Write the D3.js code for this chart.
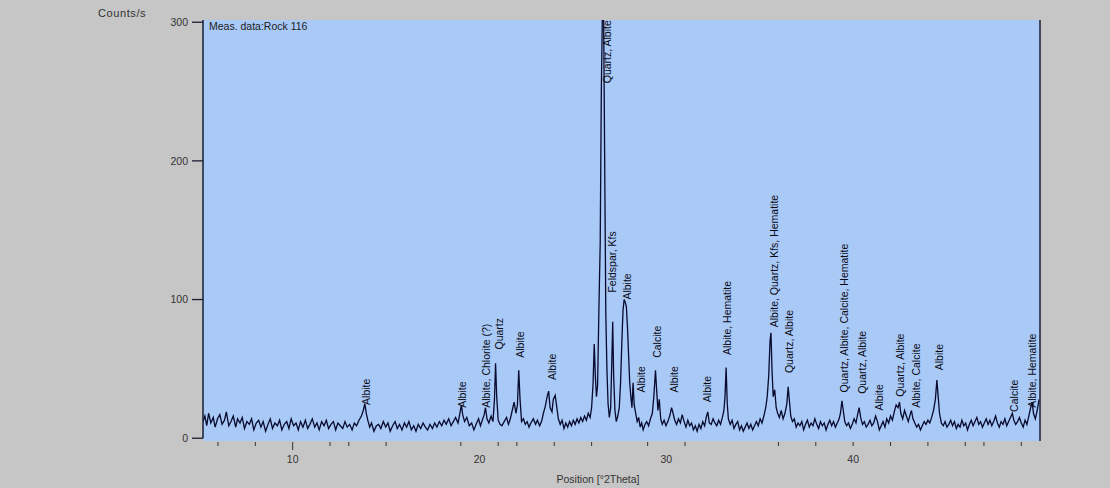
<!DOCTYPE html>
<html>
<head>
<meta charset="utf-8">
<script src="https://cdn.jsdelivr.net/npm/d3@7"></script>
<style>
  body { margin: 0; background: #c6c6c6; }
  svg { display: block; font-family: "Liberation Sans", Arial, sans-serif; }
</style>
</head>
<body>
<div id="chart"></div>
<script>
// measured profile: [position in deg 2Theta, counts/s]
var profile = [
  [5.20,12],[5.30,16],[5.40,9],[5.50,18],[5.62,11],[5.75,15],[5.85,8],[5.98,14],[6.10,17],[6.22,10],
  [6.35,13],[6.45,19],[6.58,9],[6.70,12],[6.82,16],[6.95,8],[7.05,14],[7.18,11],[7.30,15],[7.42,7],
  [7.55,12],[7.68,10],[7.80,14],[7.92,6],[8.05,11],[8.18,13],[8.30,8],[8.42,12],[8.55,5],[8.68,10],
  [8.80,14],[8.92,7],[9.05,11],[9.18,9],[9.30,13],[9.42,6],[9.55,10],[9.68,12],[9.80,7],[9.92,14],
  [10.05,9],[10.18,11],[10.30,6],[10.42,12],[10.55,8],[10.68,13],[10.80,7],[10.92,10],[11.05,14],[11.18,8],
  [11.30,11],[11.42,6],[11.55,12],[11.68,9],[11.80,13],[11.92,7],[12.05,10],[12.18,12],[12.30,6],[12.42,11],
  [12.55,9],[12.68,7],[12.80,12],[12.92,8],[13.05,10],[13.18,6],[13.30,11],[13.42,9],[13.55,13],[13.68,16],
  [13.78,20],[13.86,25],[13.94,18],[14.02,13],[14.12,8],[14.22,11],[14.35,5],[14.48,9],[14.60,10],[14.72,7],
  [14.85,12],[14.98,8],[15.10,11],[15.22,5],[15.35,9],[15.48,12],[15.60,7],[15.72,10],[15.85,6],[15.98,11],
  [16.10,8],[16.22,12],[16.35,6],[16.48,9],[16.60,5],[16.72,10],[16.85,7],[16.98,11],[17.10,8],[17.22,6],
  [17.35,10],[17.48,7],[17.60,11],[17.72,8],[17.85,12],[17.98,9],[18.10,13],[18.22,10],[18.35,14],[18.48,9],
  [18.60,12],[18.72,15],[18.85,11],[18.95,18],[19.03,24],[19.10,17],[19.20,12],[19.32,15],[19.45,9],[19.58,11],
  [19.70,6],[19.82,10],[19.95,14],[20.05,9],[20.15,13],[20.25,17],[20.32,22],[20.40,14],[20.50,11],[20.62,16],
  [20.72,12],[20.80,28],[20.86,54],[20.92,30],[21.00,13],[21.10,10],[21.20,9],[21.32,12],[21.45,15],[21.55,10],
  [21.65,14],[21.75,20],[21.85,26],[21.95,18],[22.03,24],[22.10,49],[22.17,28],[22.25,12],[22.35,14],[22.45,10],
  [22.55,12],[22.65,8],[22.75,11],[22.88,14],[23.00,10],[23.10,13],[23.22,9],[23.32,12],[23.42,18],[23.52,23],
  [23.62,30],[23.70,34],[23.78,22],[23.88,19],[23.95,28],[24.05,31],[24.12,24],[24.22,14],[24.32,10],[24.42,13],
  [24.52,7],[24.62,11],[24.72,8],[24.82,12],[24.92,9],[25.02,13],[25.12,10],[25.22,14],[25.32,11],[25.42,15],
  [25.52,12],[25.62,16],[25.72,13],[25.82,18],[25.92,15],[26.00,22],[26.08,40],[26.14,68],[26.20,45],[26.26,30],
  [26.32,38],[26.40,100],[26.46,140],[26.52,250],[26.58,310],[26.64,312],[26.70,200],[26.76,90],[26.82,50],[26.88,25],
  [26.95,15],[27.02,22],[27.08,55],[27.13,84],[27.18,45],[27.25,20],[27.32,12],[27.40,16],[27.48,22],[27.55,40],
  [27.62,70],[27.68,92],[27.74,100],[27.80,98],[27.86,95],[27.92,80],[27.98,60],[28.04,40],[28.10,30],[28.16,22],
  [28.22,40],[28.28,24],[28.36,18],[28.44,12],[28.52,15],[28.60,8],[28.68,11],[28.76,6],[28.86,10],[28.95,12],
  [29.05,9],[29.15,14],[29.25,18],[29.33,30],[29.42,49],[29.48,35],[29.55,20],[29.62,28],[29.70,14],[29.78,10],
  [29.88,13],[29.98,9],[30.08,12],[30.18,16],[30.28,22],[30.36,18],[30.45,13],[30.55,10],[30.65,14],[30.75,11],
  [30.85,17],[30.95,12],[31.05,8],[31.15,13],[31.25,9],[31.35,11],[31.45,6],[31.55,9],[31.65,5],[31.75,10],
  [31.85,7],[31.95,12],[32.05,9],[32.15,16],[32.22,19],[32.30,11],[32.40,10],[32.50,14],[32.60,11],[32.70,9],
  [32.80,13],[32.90,10],[33.00,15],[33.08,20],[33.14,30],[33.20,51],[33.26,25],[33.32,14],[33.42,10],[33.52,13],
  [33.62,7],[33.72,10],[33.82,12],[33.92,6],[34.02,9],[34.12,5],[34.22,8],[34.32,11],[34.42,7],[34.52,10],
  [34.62,6],[34.72,9],[34.82,12],[34.92,9],[35.02,14],[35.12,11],[35.22,16],[35.32,22],[35.40,30],[35.48,45],
  [35.55,70],[35.60,76],[35.66,48],[35.72,30],[35.80,35],[35.88,22],[35.96,18],[36.05,15],[36.15,20],[36.25,14],
  [36.35,18],[36.45,25],[36.52,37],[36.58,28],[36.66,16],[36.75,12],[36.85,14],[36.95,8],[37.05,11],[37.15,9],
  [37.25,12],[37.35,6],[37.45,10],[37.55,13],[37.65,8],[37.75,11],[37.85,9],[37.95,14],[38.05,10],[38.15,7],
  [38.25,12],[38.35,9],[38.45,11],[38.55,6],[38.65,10],[38.75,13],[38.85,9],[38.95,12],[39.05,8],[39.15,11],
  [39.25,14],[39.32,18],[39.40,27],[39.47,20],[39.55,12],[39.65,9],[39.75,11],[39.85,7],[39.95,10],[40.05,14],
  [40.15,11],[40.25,18],[40.32,22],[40.40,15],[40.50,10],[40.60,12],[40.70,8],[40.80,10],[40.90,13],[41.00,9],
  [41.10,11],[41.20,16],[41.30,12],[41.40,6],[41.50,9],[41.60,12],[41.70,8],[41.80,14],[41.90,11],[42.00,16],
  [42.10,13],[42.20,19],[42.30,24],[42.40,22],[42.48,26],[42.55,18],[42.65,14],[42.75,20],[42.85,16],[42.95,12],
  [43.05,17],[43.12,20],[43.20,14],[43.30,11],[43.40,8],[43.50,10],[43.60,6],[43.70,9],[43.80,12],[43.90,10],
  [44.00,13],[44.10,11],[44.20,15],[44.30,20],[44.40,28],[44.48,42],[44.55,30],[44.62,18],[44.72,11],[44.82,9],
  [44.92,12],[45.02,8],[45.12,10],[45.22,13],[45.32,9],[45.42,12],[45.52,7],[45.62,10],[45.72,8],[45.82,13],
  [45.92,9],[46.02,11],[46.12,6],[46.22,10],[46.32,13],[46.42,9],[46.52,12],[46.62,15],[46.72,10],[46.82,12],
  [46.92,8],[47.02,11],[47.12,14],[47.22,10],[47.32,13],[47.42,9],[47.52,12],[47.62,16],[47.72,11],[47.82,8],
  [47.92,12],[48.02,10],[48.12,14],[48.22,9],[48.32,12],[48.42,15],[48.52,18],[48.60,13],[48.70,10],[48.80,12],
  [48.90,15],[49.00,11],[49.10,8],[49.20,13],[49.30,10],[49.40,16],[49.50,22],[49.58,26],[49.65,18],[49.75,14],
  [49.85,20],[49.95,28]
];

// phase identification labels
var peakNames = [
  "Albite", "Albite", "Albite, Chlorite (?)", "Quartz", "Albite", "Albite",
  "Quartz, Albite", "Feldspar, Kfs", "Albite", "Albite", "Calcite", "Albite",
  "Albite", "Albite, Hematite", "Albite, Quartz, Kfs, Hematite", "Quartz, Albite",
  "Quartz, Albite, Calcite, Hematite", "Quartz, Albite", "Albite", "Quartz, Albite",
  "Albite, Calcite", "Albite", "Calcite", "Albite, Hematite"
];
var peakPos = [
  13.96, 19.09, 20.37, 21.05, 22.2, 23.9,
  26.85, 27.1, 27.9, 28.66, 29.5, 30.4,
  32.19, 33.26, 35.78, 36.58,
  39.52, 40.48, 41.39, 42.51,
  43.37, 44.6, 48.61, 49.57
];
var labelBase = [
  24, 22, 22, 64, 58, 42,
  256, 105, 100, 33, 58, 33,
  26, 60, 80, 47,
  33, 32, 20, 30,
  22, 49, 19, 22
];

var yTicks = [0, 100, 200, 300];
var xTickLabels = [10, 20, 30, 40];
var xMarks = [6, 8, 10, 12, 13, 15, 19, 21, 22, 24, 26, 29, 31, 36, 38, 40, 42, 44, 46, 47, 49];

var W = 1110, H = 488;
var plot = {left: 203, right: 1040, top: 20, bottom: 441};
var fs = "10.5px";

var svg = d3.select("#chart").append("svg")
    .attr("width", W)
    .attr("height", H);

var x = d3.scaleLinear().domain([5.2, 50]).range([plot.left, plot.right]);
var y = d3.scaleLinear().domain([-2, 301.6]).range([plot.bottom, plot.top]);

// plot background
svg.append("rect")
    .attr("x", plot.left).attr("y", plot.top)
    .attr("width", plot.right - plot.left)
    .attr("height", plot.bottom - plot.top)
    .attr("fill", "#a9c9f7");

svg.append("clipPath").attr("id", "clip")
  .append("rect")
    .attr("x", plot.left).attr("y", plot.top)
    .attr("width", plot.right - plot.left)
    .attr("height", plot.bottom - plot.top);

// pattern
var line = d3.line().x(d => x(d[0])).y(d => y(d[1]));
svg.append("path")
    .attr("clip-path", "url(#clip)")
    .attr("d", line(profile))
    .attr("fill", "none")
    .attr("stroke", "#080a2e")
    .attr("stroke-width", 1.3);

// peak labels
svg.append("g").selectAll("text")
    .data(peakNames)
    .enter().append("text")
    .attr("transform", (d, i) => "translate(" + x(peakPos[i]) + "," + y(labelBase[i]) + ") rotate(-90)")
    .attr("dy", "0.35em")
    .attr("font-size", fs)
    .attr("fill", "#0a0a14")
    .text(d => d);

// frame
svg.append("line")
    .attr("x1", plot.left).attr("x2", plot.left)
    .attr("y1", plot.top).attr("y2", y(0))
    .attr("stroke", "#1a1d33").attr("stroke-width", 1.5);
svg.append("line")
    .attr("x1", plot.right).attr("x2", plot.right)
    .attr("y1", plot.top).attr("y2", plot.bottom)
    .attr("stroke", "#1a1d33").attr("stroke-width", 1.5);

// y axis
var yAxis = svg.append("g");
yAxis.selectAll("line").data(yTicks).enter().append("line")
    .attr("x1", plot.left - 11).attr("x2", plot.left)
    .attr("y1", d => y(d)).attr("y2", d => y(d))
    .attr("stroke", "#1a1d33").attr("stroke-width", 1.3);
yAxis.selectAll("text").data(yTicks).enter().append("text")
    .attr("x", plot.left - 15)
    .attr("y", d => y(d))
    .attr("dy", "0.35em")
    .attr("text-anchor", "end")
    .attr("font-size", fs)
    .attr("fill", "#333")
    .text(d => d);

// x axis marks and labels
var xAxis = svg.append("g");
xAxis.selectAll("line").data(xMarks).enter().append("line")
    .attr("x1", d => x(d)).attr("x2", d => x(d))
    .attr("y1", plot.bottom + 1)
    .attr("y2", d => plot.bottom + (d === 10 ? 9 : 5))
    .attr("stroke", "#333").attr("stroke-width", 1);
xAxis.selectAll("text").data(xTickLabels).enter().append("text")
    .attr("x", d => x(d))
    .attr("y", 463)
    .attr("text-anchor", "middle")
    .attr("font-size", fs)
    .attr("fill", "#333")
    .text(d => d);

svg.append("text")
    .attr("x", 598).attr("y", 483)
    .attr("text-anchor", "middle")
    .attr("font-size", fs)
    .attr("fill", "#333")
    .text("Position [°2Theta]");

svg.append("text")
    .attr("x", 98).attr("y", 17)
    .attr("font-size", "11px")
    .attr("letter-spacing", "0.6px")
    .attr("fill", "#333")
    .text("Counts/s");

svg.append("text")
    .attr("x", 209).attr("y", 30)
    .attr("font-size", fs)
    .attr("fill", "#222")
    .text("Meas. data:Rock 116");
</script>
</body>
</html>
